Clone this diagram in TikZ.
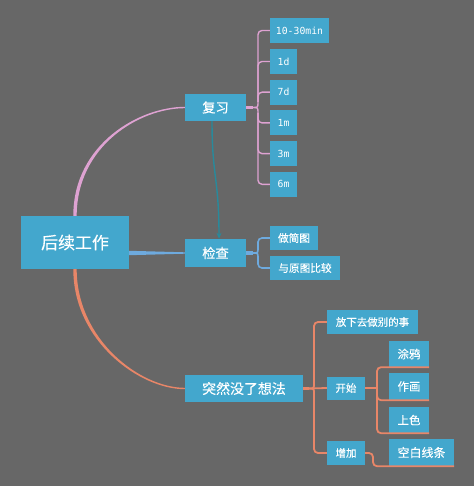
\documentclass[tikz,border=0pt]{standalone}
\usepackage{fontspec}
\setmainfont[RawFeature={embolden=0.2}]{Noto Sans CJK SC}
\newfontfamily\monof{DejaVu Sans Mono}
\usetikzlibrary{calc,arrows.meta}
\definecolor{bgc}{RGB}{103,103,103}
\definecolor{boxc}{RGB}{67,167,205}
\definecolor{pinkc}{RGB}{222,162,210}
\definecolor{bluec}{RGB}{110,170,222}
\definecolor{orangec}{RGB}{232,134,104}
\definecolor{tealc}{RGB}{40,138,156}
\tikzset{
  box/.style={fill=boxc, text=white, inner sep=0pt, anchor=center},
  fs/.style={font=\fontsize{#1}{#1}\selectfont},
  pinkln/.style={draw=pinkc, line width=1.4bp, rounded corners=4bp},
  blueln/.style={draw=bluec, line width=1.6bp, rounded corners=4bp},
  orangeln/.style={draw=orangec, line width=1.8bp, rounded corners=4bp},
}
\begin{document}
\begin{tikzpicture}[x=1bp,y=-1bp]
\fill[bgc] (0,0) rectangle (474,486);
\useasboundingbox (0,0) rectangle (474,486);

% nodes
\node[box, fs=17, minimum width=108bp, minimum height=53bp] (root) at (75,242.5) {后续工作};
\node[box, fs=13.3, minimum width=61bp, minimum height=27bp] (fx) at (215.5,107.5) {复习};
\node[box, fs=13.3, minimum width=61bp, minimum height=28bp] (jc) at (215.5,253) {检查};
\node[box, fs=14, minimum width=118bp, minimum height=27bp] (tr) at (244,388.5) {突然没了想法};

\node[box, fs=9.8, minimum width=59bp, minimum height=25bp] (a1) at (299.5,30.5) {\monof 10-30min};
\node[box, fs=9.8, minimum width=27bp, minimum height=25bp] (a2) at (283.5,61.5) {\monof 1d};
\node[box, fs=9.8, minimum width=27bp, minimum height=25bp] (a3) at (283.5,92.2) {\monof 7d};
\node[box, fs=9.8, minimum width=27bp, minimum height=25bp] (a4) at (283.5,122.9) {\monof 1m};
\node[box, fs=9.8, minimum width=27bp, minimum height=25bp] (a5) at (283.5,153.6) {\monof 3m};
\node[box, fs=9.8, minimum width=27bp, minimum height=25bp] (a6) at (283.5,184.3) {\monof 6m};

\node[box, fs=10.7, minimum width=48bp, minimum height=24bp] (b1) at (294,238) {做简图};
\node[box, fs=10.7, minimum width=70bp, minimum height=24bp] (b2) at (305,268) {与原图比较};

\node[box, fs=10.5, minimum width=91bp, minimum height=24bp] (c1) at (372.5,322) {放下去做别的事};
\node[box, fs=10.5, minimum width=38bp, minimum height=23bp] (c2) at (346,388) {开始};
\node[box, fs=10.5, minimum width=38bp, minimum height=24bp] (c3) at (346,453) {增加};

\node[box, fs=11.5, minimum width=40bp, minimum height=26bp] (d1) at (409,354) {涂鸦};
\node[box, fs=11.5, minimum width=40bp, minimum height=27bp] (d2) at (409,386.5) {作画};
\node[box, fs=11.5, minimum width=40bp, minimum height=26bp] (d3) at (409,420) {上色};
\node[box, fs=12, minimum width=65bp, minimum height=27bp] (e1) at (421.5,452.5) {空白线条};

% main branches (tapered)
\fill[pinkc] ($(root.north)+(-1.7,0)$) .. controls ($(root.north)+(-1.7,-72)$) and ($(fx.west)+(-45,-0.7)$) .. ($(fx.west)+(0,-0.7)$)
  -- ($(fx.west)+(0,0.7)$) .. controls ($(fx.west)+(-45,0.7)$) and ($(root.north)+(1.7,-70)$) .. ($(root.north)+(1.7,0)$) -- cycle;
\fill[orangec] ($(root.south)+(-1.7,0)$) .. controls ($(root.south)+(-1.7,72)$) and ($(tr.west)+(-45,0.7)$) .. ($(tr.west)+(0,0.7)$)
  -- ($(tr.west)+(0,-0.7)$) .. controls ($(tr.west)+(-45,-0.7)$) and ($(root.south)+(1.7,70)$) .. ($(root.south)+(1.7,0)$) -- cycle;
\fill[bluec] ($(root.east |- jc.west)+(0,-2.2)$) -- ($(jc.west)+(0,-0.7)$) -- ($(jc.west)+(0,0.7)$) -- ($(root.east |- jc.west)+(0,2.2)$) -- cycle;

% review bracket
\coordinate (fxs) at (253,107.5);
\coordinate (fxu) at (258,102);
\coordinate (fxd) at (258,113);
\draw[pinkc, line width=3.2bp] (fx.east) -- (fxs);
\draw[pinkln] (fxs) .. controls (258,107.5) .. (fxu);
\draw[pinkln] (fxs) .. controls (258,107.5) .. (fxd);
\draw[pinkln] (fxu) |- (a1.west);
\draw[pinkln] (fxu) |- (a2.west);
\draw[pinkln] (fxu) |- (a3.west);
\draw[pinkln] (fxd) |- (a4.west);
\draw[pinkln] (fxd) |- (a5.west);
\draw[pinkln] (fxd) |- (a6.west);

% check bracket
\coordinate (jcs) at (253,253);
\coordinate (jcu) at (258,248);
\coordinate (jcd) at (258,258);
\draw[bluec, line width=3.2bp] (jc.east) -- (jcs);
\draw[blueln] (jcs) .. controls (258,253) .. (jcu);
\draw[blueln] (jcs) .. controls (258,253) .. (jcd);
\draw[blueln] (jcu) |- (b1.west);
\draw[blueln] (jcd) |- (b2.west);

% sudden bracket
\coordinate (trs) at (309,388.5);
\coordinate (tru) at (314,383);
\coordinate (trd) at (314,394);
\draw[orangec, line width=3.2bp] (tr.east) -- (trs);
\draw[orangeln] (trs) .. controls (314,388.5) .. (tru);
\draw[orangeln] (trs) .. controls (314,388.5) .. (trd);
\draw[orangeln] (trs) -- (c2.west);
\draw[orangeln] (tru) |- (c1.west);
\draw[orangeln] (trd) |- (c3.west);

% start bracket (underlines)
\coordinate (ks) at (377,388);
\draw[orangeln] (c2.east) -- (ks);
\draw[orangeln] (ks) |- (d1.south east);
\draw[orangeln] (ks) |- (d2.south east);
\draw[orangeln] (ks) |- (d3.south east);

% add
\coordinate (zs) at (373,453);
\draw[orangeln] (c3.east) -- (zs) |- (e1.south east);

% teal arrow
\draw[tealc, line width=1.4bp, -{Stealth[length=6bp,width=5bp]}]
  ($(fx.south)+(-3.5,0)$) .. controls ($(fx.south)+(-3.5,55)$) and ($(jc.north)+(3.5,-60)$) .. ($(jc.north)+(3.5,0)$);
\end{tikzpicture}
\end{document}
